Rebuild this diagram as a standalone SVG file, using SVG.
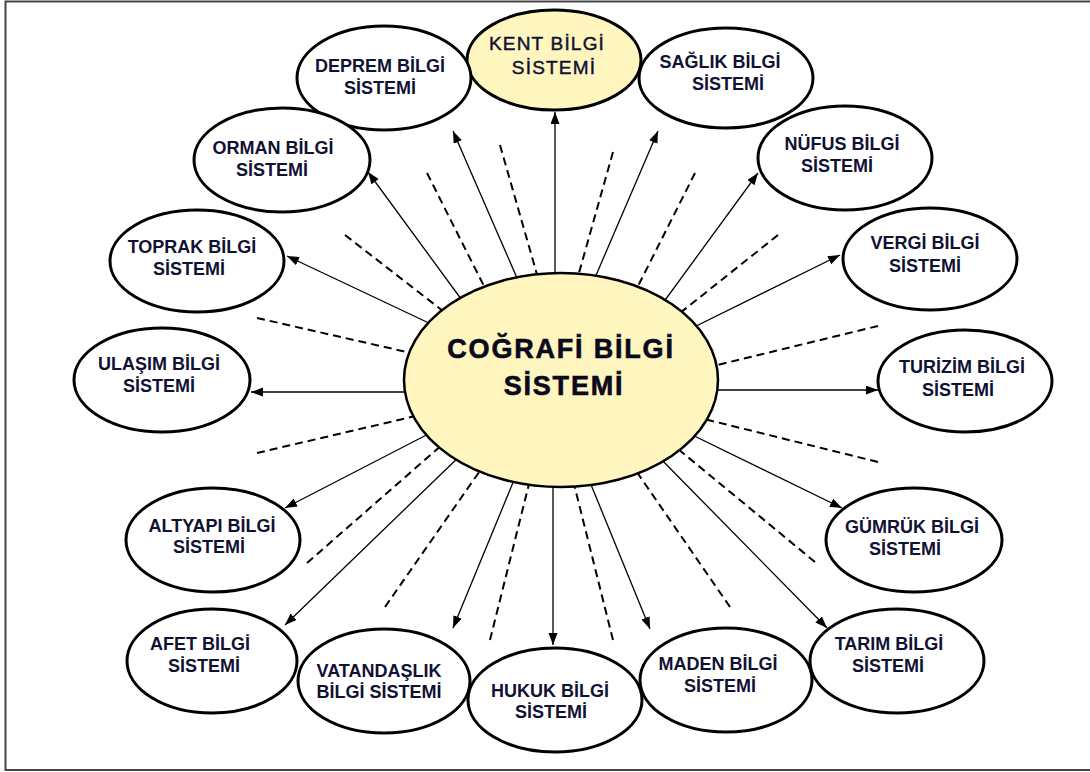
<svg xmlns="http://www.w3.org/2000/svg" width="1090" height="772" viewBox="0 0 1090 772">
  <defs>
    <marker id="arrowhead" markerUnits="userSpaceOnUse" markerWidth="13" markerHeight="10" refX="12" refY="4.5" orient="auto">
      <path d="M0,0 L12,4.5 L0,9 z" fill="#000"/>
    </marker>
    <style>
      .frame { fill: none; stroke: #444; stroke-width: 2; }
      .node { fill: #fff; stroke: #000; stroke-width: 3; }
      .hub { fill: #fff5bf; stroke: #000; stroke-width: 2.5; }
      .hl { fill: #fff5bf; }
      .arrow { stroke: #000; stroke-width: 1.3; fill: none; marker-end: url(#arrowhead); }
      .dash { stroke: #000; stroke-width: 2; fill: none; stroke-dasharray: 8 5; }
      .lbl { font-family: "Liberation Sans", Arial, sans-serif; font-weight: bold; font-size: 18px; fill: #111133; text-anchor: middle; }
      .lbl-reg { font-family: "Liberation Sans", Arial, sans-serif; font-weight: normal; font-size: 19px; letter-spacing: 1.2px; fill: #111133; stroke: #111133; stroke-width: 0.45; text-anchor: middle; }
      .title { font-family: "Liberation Sans", Arial, sans-serif; font-weight: bold; font-size: 27px; letter-spacing: 1.8px; fill: #0a0a1e; stroke: #0a0a1e; stroke-width: 0.6; text-anchor: middle; }
    </style>
  </defs>

  <rect width="1090" height="772" fill="#fff"/>
  <rect class="frame" x="5.5" y="1.5" width="1090" height="768.5"/>

  <!-- spokes: solid arrows to each system, dashed rays between them -->
  <g id="connectors">
    <line class="arrow" x1="555" y1="300" x2="555" y2="112"/>
    <line class="arrow" x1="524" y1="294" x2="453" y2="131"/>
    <line class="arrow" x1="588" y1="294" x2="658" y2="131"/>
    <line class="arrow" x1="475" y1="318" x2="368" y2="172"/>
    <line class="arrow" x1="652" y1="318" x2="758" y2="173"/>
    <line class="arrow" x1="450" y1="333" x2="287" y2="256"/>
    <line class="arrow" x1="680" y1="334" x2="840" y2="255"/>
    <line class="arrow" x1="420" y1="392" x2="251" y2="392"/>
    <line class="arrow" x1="700" y1="390" x2="878" y2="390"/>
    <line class="arrow" x1="440" y1="428" x2="285" y2="508"/>
    <line class="arrow" x1="680" y1="429" x2="842" y2="508"/>
    <line class="arrow" x1="465" y1="451" x2="285" y2="625"/>
    <line class="arrow" x1="655" y1="453" x2="827" y2="628"/>
    <line class="arrow" x1="519" y1="468" x2="453" y2="628"/>
    <line class="arrow" x1="585" y1="470" x2="650" y2="629"/>
    <line class="arrow" x1="553" y1="470" x2="553" y2="645"/>

    <line class="dash" x1="500" y1="145" x2="540" y2="285"/>
    <line class="dash" x1="613" y1="152" x2="577" y2="280"/>
    <line class="dash" x1="427" y1="173" x2="490" y2="298"/>
    <line class="dash" x1="695" y1="173" x2="632" y2="298"/>
    <line class="dash" x1="345" y1="235" x2="452" y2="318"/>
    <line class="dash" x1="778" y1="235" x2="675" y2="317"/>
    <line class="dash" x1="257" y1="318" x2="420" y2="355"/>
    <line class="dash" x1="878" y1="326" x2="705" y2="368"/>
    <line class="dash" x1="257" y1="453" x2="420" y2="415"/>
    <line class="dash" x1="878" y1="462" x2="700" y2="418"/>
    <line class="dash" x1="307" y1="563" x2="443" y2="444"/>
    <line class="dash" x1="815" y1="562" x2="672" y2="444"/>
    <line class="dash" x1="385" y1="607" x2="484" y2="465"/>
    <line class="dash" x1="730" y1="607" x2="632" y2="465"/>
    <line class="dash" x1="490" y1="640" x2="531" y2="476"/>
    <line class="dash" x1="613" y1="640" x2="572" y2="476"/>
  </g>

  <g id="cografi-bilgi-sistemi">
    <ellipse class="hub" cx="561" cy="380" rx="157" ry="107"/>
    <text class="title" x="561" y="358">COĞRAFİ BİLGİ</text>
    <text class="title" x="564" y="395">SİSTEMİ</text>
  </g>

  <g id="kent">
    <ellipse class="node hl" cx="554" cy="60" rx="87" ry="50"/>
    <text class="lbl-reg" x="547" y="50">KENT BİLGİ</text>
    <text class="lbl-reg" x="554" y="74">SİSTEMİ</text>
  </g>
  <g id="deprem">
    <ellipse class="node" cx="384" cy="78" rx="87" ry="52"/>
    <text class="lbl" x="380" y="72">DEPREM BİLGİ</text>
    <text class="lbl" x="380" y="94">SİSTEMİ</text>
  </g>
  <g id="saglik">
    <ellipse class="node" cx="726" cy="78" rx="87" ry="50"/>
    <text class="lbl" x="720" y="68">SAĞLIK BİLGİ</text>
    <text class="lbl" x="728" y="90">SİSTEMİ</text>
  </g>
  <g id="orman">
    <ellipse class="node" cx="282" cy="160" rx="88" ry="52"/>
    <text class="lbl" x="273" y="154">ORMAN BİLGİ</text>
    <text class="lbl" x="272" y="176">SİSTEMİ</text>
  </g>
  <g id="nufus">
    <ellipse class="node" cx="845" cy="158" rx="87" ry="52"/>
    <text class="lbl" x="842" y="150">NÜFUS BİLGİ</text>
    <text class="lbl" x="837" y="172">SİSTEMİ</text>
  </g>
  <g id="toprak">
    <ellipse class="node" cx="197" cy="261" rx="87" ry="51"/>
    <text class="lbl" x="192" y="253">TOPRAK BİLGİ</text>
    <text class="lbl" x="189" y="275">SİSTEMİ</text>
  </g>
  <g id="vergi">
    <ellipse class="node" cx="930" cy="259" rx="87" ry="51"/>
    <text class="lbl" x="925" y="249">VERGİ BİLGİ</text>
    <text class="lbl" x="925" y="272">SİSTEMİ</text>
  </g>
  <g id="ulasim">
    <ellipse class="node" cx="162" cy="380" rx="88" ry="52"/>
    <text class="lbl" x="159" y="370">ULAŞIM BİLGİ</text>
    <text class="lbl" x="159" y="392">SİSTEMİ</text>
  </g>
  <g id="turizim">
    <ellipse class="node" cx="965" cy="381" rx="87" ry="51"/>
    <text class="lbl" x="962" y="373">TURİZİM BİLGİ</text>
    <text class="lbl" x="958" y="396">SİSTEMİ</text>
  </g>
  <g id="altyapi">
    <ellipse class="node" cx="213" cy="540" rx="87" ry="52"/>
    <text class="lbl" x="212" y="532">ALTYAPI BİLGİ</text>
    <text class="lbl" x="209" y="553">SİSTEMİ</text>
  </g>
  <g id="gumruk">
    <ellipse class="node" cx="914" cy="540" rx="88" ry="52"/>
    <text class="lbl" x="912" y="533">GÜMRÜK BİLGİ</text>
    <text class="lbl" x="905" y="555">SİSTEMİ</text>
  </g>
  <g id="afet">
    <ellipse class="node" cx="212" cy="661" rx="85" ry="52"/>
    <text class="lbl" x="200" y="650">AFET BİLGİ</text>
    <text class="lbl" x="204" y="672">SİSTEMİ</text>
  </g>
  <g id="tarim">
    <ellipse class="node" cx="897" cy="661" rx="87" ry="52"/>
    <text class="lbl" x="889" y="650">TARIM BİLGİ</text>
    <text class="lbl" x="888" y="672">SİSTEMİ</text>
  </g>
  <g id="vatandaslik">
    <ellipse class="node" cx="384" cy="681" rx="86" ry="52"/>
    <text class="lbl" x="379" y="677">VATANDAŞLIK</text>
    <text class="lbl" x="379" y="698">BİLGİ SİSTEMİ</text>
  </g>
  <g id="hukuk">
    <ellipse class="node" cx="555" cy="700" rx="87" ry="52"/>
    <text class="lbl" x="550" y="697">HUKUK BİLGİ</text>
    <text class="lbl" x="551" y="718">SİSTEMİ</text>
  </g>
  <g id="maden">
    <ellipse class="node" cx="726" cy="680" rx="86" ry="52"/>
    <text class="lbl" x="718" y="670">MADEN BİLGİ</text>
    <text class="lbl" x="720" y="692">SİSTEMİ</text>
  </g>
</svg>
